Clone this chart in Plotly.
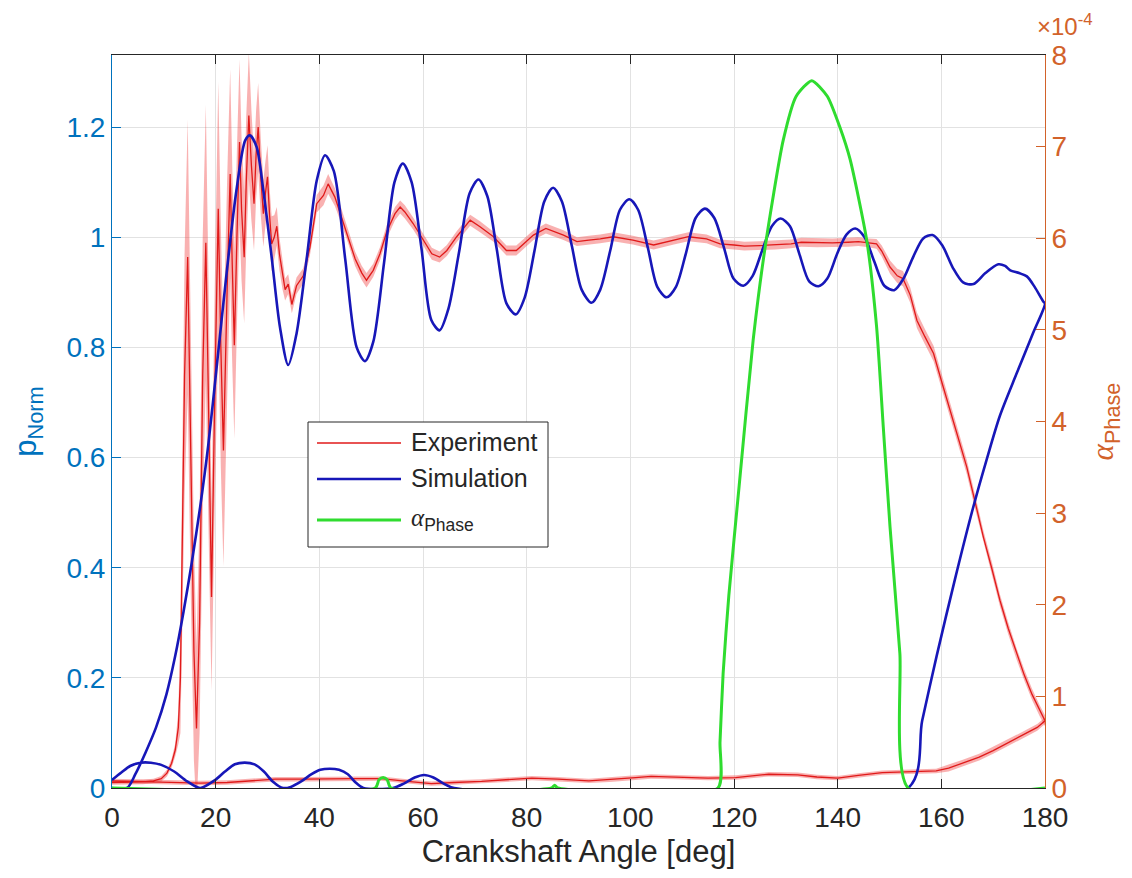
import plotly.graph_objects as go

# ---------------- data ----------------
# Experiment, forward branch (0 -> 180 deg): mean and half-width of the scatter band
exp_fwd_x = [0, 3, 6, 8, 9.5, 10.6, 11.5, 12.2, 12.8, 13.2, 13.6, 14.0,
             14.6, 15.2, 15.8, 16.3, 16.9, 17.5, 18.1, 18.7, 19.2, 19.8, 20.5, 21.0, 21.5,
             22.2, 22.8, 23.2, 23.6, 24.1, 24.6, 25.0, 25.5, 25.9, 26.4, 26.9, 27.4, 27.8,
             28.2, 28.7, 29.2, 29.6, 30.0, 30.4, 30.8, 31.3, 31.8, 32.3, 32.9, 33.4, 34.0,
             34.7, 35.6, 36.9, 38.2, 39.5, 40.8, 41.7, 43.0, 44.3, 45.6, 46.9, 48.2, 49.1,
             50.4, 51.7, 53.0, 54.6, 55.6, 56.5, 58.1, 60.1, 61.7, 63.2, 64.6, 66.5, 69.1,
             71.0, 73.6, 76.1, 78.0, 81.3, 83.7, 87.1, 89.7, 92.0, 94.2, 96.7, 100.5, 104.5,
             108.4, 111.2, 114.7, 117.3, 120.0, 122.0, 125.0, 128.0, 131.0, 133.0, 136.0,
             139.0, 142.0, 144.0, 146.0, 147.5, 148.5, 150.1, 151.5, 152.6, 154.0, 155.3,
             156.8, 158.5, 160.0, 161.7, 163.3, 164.9, 166.5, 168.1, 169.7, 171.3, 172.9,
             174.5, 176.0, 177.5, 179.0, 180.0]
exp_fwd_y = [0.010, 0.010, 0.011, 0.013, 0.017, 0.027, 0.045, 0.069, 0.110, 0.200, 0.450, 0.750,
             0.964, 0.600, 0.250, 0.108, 0.300, 0.750, 0.990, 0.650, 0.347, 0.700, 1.052, 0.800, 0.613,
             0.900, 1.115, 0.950, 0.804, 1.000, 1.173, 1.050, 0.964, 1.100, 1.221, 1.130, 1.061, 1.150,
             1.200, 1.110, 1.043, 1.080, 1.110, 1.040, 0.988, 1.000, 1.020, 0.970, 0.930, 0.905, 0.915,
             0.878, 0.912, 0.930, 0.982, 1.061, 1.076, 1.097, 1.073, 1.037, 1.001, 0.961, 0.935, 0.922,
             0.940, 0.970, 1.010, 1.043, 1.055, 1.046, 1.025, 0.995, 0.970, 0.964, 0.976, 1.001, 1.031,
             1.019, 1.001, 0.976, 0.976, 1.004, 1.016, 1.004, 0.992, 0.995, 0.997, 1.001, 0.995, 0.986,
             0.995, 1.001, 0.997, 0.988, 0.986, 0.984, 0.985, 0.986, 0.988, 0.991, 0.990,
             0.990, 0.991, 0.992, 0.990, 0.988, 0.975, 0.946, 0.930, 0.925, 0.895, 0.849,
             0.820, 0.789, 0.740, 0.686, 0.635, 0.583, 0.520, 0.456, 0.400, 0.341, 0.290,
             0.244, 0.205, 0.170, 0.140, 0.122]
exp_fwd_hw = [0.004, 0.004, 0.004, 0.004, 0.005, 0.006, 0.008, 0.012, 0.030, 0.100, 0.180, 0.220,
              0.250, 0.250, 0.200, 0.150, 0.200, 0.250, 0.250, 0.220, 0.170, 0.200, 0.230, 0.220, 0.210,
              0.200, 0.190, 0.180, 0.170, 0.160, 0.150, 0.130, 0.120, 0.120, 0.115, 0.100, 0.085, 0.080,
              0.080, 0.070, 0.060, 0.058, 0.057, 0.050, 0.050, 0.040, 0.035, 0.030, 0.025, 0.020, 0.018,
              0.016, 0.015, 0.014, 0.014, 0.016, 0.018, 0.018, 0.016, 0.014, 0.013, 0.013, 0.013, 0.013,
              0.012, 0.012, 0.012, 0.012, 0.012, 0.012, 0.011, 0.011, 0.011, 0.010, 0.010, 0.010, 0.010,
              0.010, 0.009, 0.009, 0.009, 0.009, 0.009, 0.009, 0.008, 0.008, 0.008, 0.008, 0.008, 0.008,
              0.008, 0.008, 0.008, 0.008, 0.008, 0.008, 0.008, 0.008, 0.008, 0.008, 0.008,
              0.008, 0.008, 0.008, 0.008, 0.009, 0.010, 0.012, 0.013, 0.014, 0.014, 0.014,
              0.014, 0.014, 0.014, 0.014, 0.014, 0.013, 0.013, 0.012, 0.012, 0.011, 0.011,
              0.010, 0.010, 0.010, 0.010, 0.010]

# Experiment, return branch (180 -> 0 deg, plotted against 360 - angle)
exp_ret_x = [180.0, 178.5, 176.5, 173.0, 170.0, 167.3, 164.0, 161.4, 159.0, 155.3, 148.6, 144.0,
             140.0, 136.0, 132.3, 126.7, 123.0, 120.3, 115.0, 108.7, 104.0, 101.0, 96.0, 92.0,
             86.0, 81.0, 76.0, 71.3, 66.0, 61.6, 56.0, 52.0, 47.0, 42.0, 37.0, 31.5, 27.0,
             22.2, 17.0, 12.0, 6.0, 0.0]
exp_ret_y = [0.122, 0.110, 0.100, 0.083, 0.068, 0.056, 0.045, 0.036, 0.031, 0.030, 0.028, 0.023,
             0.018, 0.020, 0.024, 0.025, 0.022, 0.019, 0.018, 0.020, 0.021, 0.019, 0.015, 0.013,
             0.016, 0.018, 0.015, 0.012, 0.010, 0.008, 0.013, 0.017, 0.017, 0.016, 0.016, 0.016, 0.013,
             0.010, 0.009, 0.010, 0.012, 0.013]
exp_ret_hw = [0.006] * 8 + [0.004] * 34

# Simulation, full cycle (forward 0 -> 180, then return 180 -> 0)
sim_x = [0, 2.9, 4.5, 6.5, 8.5, 10.5, 12.2, 13.8, 15.4, 17.0, 18.6, 20.2, 22.1, 24.0, 25.7,
         26.6, 27.9, 29.2, 30.8, 32.4, 34.0, 35.6, 37.6, 39.5, 41.1, 42.8, 45.0, 47.2, 48.8, 50.4,
         52.5, 54.5, 56.1, 57.8, 59.7, 61.6, 63.2, 64.9, 66.9, 69.0, 70.7, 72.4, 74.2, 76.1, 77.9,
         79.6, 81.5, 83.4, 85.1, 86.8, 88.7, 90.6, 92.5, 94.2, 96.1, 98.0, 99.8, 101.5, 103.4,
         105.2, 107.0, 108.8, 110.7, 112.6, 114.4, 116.2, 118.1, 119.9, 121.8, 123.6, 125.4,
         127.3, 129.0, 130.8, 132.6, 134.5, 136.3, 138.0, 139.9, 141.7, 143.4, 145.2, 147.1,
         149.0, 150.9, 152.7, 154.6, 156.5, 158.3, 160.2, 162.2, 164.2, 166.2, 168.5, 171.0,
         172.3, 173.3, 175.0, 176.5, 178.0, 179.7, 180.0,
         177.7, 174.5, 171.3, 168.7, 166.1, 162.6, 159.1, 156.3, 153.6,
         66.0, 64.0, 62.0, 60.2, 58.4, 56.3, 54.2, 48.5, 47.0, 45.5, 43.8, 42.0, 40.2, 38.5,
         36.5, 34.5, 33.0, 31.0, 29.3, 27.5, 25.6, 23.7, 21.8, 19.8, 17.0, 14.5, 12.0, 9.5,
         7.5, 5.5, 3.5, 1.8, 0.0]
sim_y = [0.0, 0.0, 0.025, 0.065, 0.110, 0.170, 0.240, 0.320, 0.410, 0.510, 0.625, 0.765,
         0.934, 1.085, 1.176, 1.185, 1.164, 1.085, 0.964, 0.837, 0.768, 0.825, 0.964, 1.103, 1.149,
         1.120, 0.960, 0.800, 0.775, 0.810, 0.955, 1.100, 1.134, 1.100, 0.980, 0.850, 0.831, 0.870,
         0.970, 1.080, 1.105, 1.075, 0.980, 0.880, 0.860, 0.890, 0.975, 1.065, 1.090, 1.065, 0.985,
         0.905, 0.881, 0.905, 0.975, 1.050, 1.069, 1.050, 0.980, 0.910, 0.891, 0.910, 0.970, 1.035,
         1.052, 1.035, 0.980, 0.925, 0.912, 0.930, 0.975, 1.020, 1.034, 1.020, 0.970, 0.920, 0.911,
         0.925, 0.970, 1.005, 1.016, 1.000, 0.955, 0.912, 0.904, 0.925, 0.965, 0.998, 1.004, 0.985,
         0.945, 0.918, 0.915, 0.935, 0.951, 0.948, 0.940, 0.935, 0.929, 0.910, 0.883, 0.880,
         0.826, 0.752, 0.676, 0.595, 0.508, 0.378, 0.240, 0.122, 0.0,
         0.0, 0.008, 0.019, 0.0236, 0.019, 0.008, 0.0, 0.0, 0.010, 0.025, 0.033, 0.035, 0.033, 0.025,
         0.012, 0.002, 0.0, 0.012, 0.030, 0.043, 0.046, 0.043, 0.030, 0.014, 0.0, 0.012, 0.030, 0.042,
         0.046, 0.046, 0.040, 0.028, 0.0145]

# Phase fraction (right axis, absolute values)
alpha_x = [0, 50.8, 51.5, 52.3, 53.1, 53.8, 84.8, 85.4, 86.0, 116.9, 117.3, 117.9, 119.0, 121.0,
           123.7, 126.0, 129.5, 132.0, 135.0, 138.0, 140.5, 142.4, 145.6, 147.5, 148.8, 150.1,
           152.0, 153.6, 180]
alpha_y = [0, 0, 0.09e-4, 0.115e-4, 0.09e-4, 0, 0, 0.03e-4, 0, 0, 0.5e-4, 1.25e-4, 2.1e-4, 3.3e-4,
           4.89e-4, 5.9e-4, 7.07e-4, 7.55e-4, 7.72e-4, 7.55e-4, 7.2e-4, 6.86e-4, 5.98e-4, 5.04e-4,
           3.94e-4, 2.85e-4, 1.47e-4, 0, 0]

x_ticks = [0, 20, 40, 60, 80, 100, 120, 140, 160, 180]
yl_ticks = [0, 0.2, 0.4, 0.6, 0.8, 1.0, 1.2]
yl_labels = ["0", "0.2", "0.4", "0.6", "0.8", "1", "1.2"]
yr_ticks = [0, 1e-4, 2e-4, 3e-4, 4e-4, 5e-4, 6e-4, 7e-4, 8e-4]
yr_labels = ["0", "1", "2", "3", "4", "5", "6", "7", "8"]

# ---------------- figure ----------------
FONT = "Liberation Sans, Arial, Helvetica, sans-serif"
C_LEFT = "#0072BD"
C_RIGHT = "#d2622a"
C_TXT = "#262626"
C_EXP = "#e01a1a"
C_BAND = "rgba(240,70,70,0.42)"
C_SIM = "#1717b8"
C_ALPHA = "#2fdc2f"
ALPHA_TXT = "<span style='font-family:Liberation Serif'><i>α</i></span><sub>Phase</sub>"

fig = go.Figure()


def band(xs, ys, hs):
    bx = list(xs) + list(xs)[::-1]
    by = [y + h for y, h in zip(ys, hs)] + [y - h for y, h in zip(ys, hs)][::-1]
    return bx, by


bx, by = band(exp_fwd_x, exp_fwd_y, exp_fwd_hw)
fig.add_trace(go.Scatter(x=bx, y=by, fill="toself", fillcolor=C_BAND, line=dict(width=0),
                         mode="lines", showlegend=False, hoverinfo="skip"))
bx, by = band(exp_ret_x, exp_ret_y, exp_ret_hw)
fig.add_trace(go.Scatter(x=bx, y=by, fill="toself", fillcolor=C_BAND, line=dict(width=0),
                         mode="lines", showlegend=False, hoverinfo="skip"))

fig.add_trace(go.Scatter(x=exp_fwd_x + exp_ret_x[1:], y=exp_fwd_y + exp_ret_y[1:], mode="lines",
                         line=dict(color=C_EXP, width=1.3), name="Experiment", showlegend=False))
fig.add_trace(go.Scatter(x=sim_x, y=sim_y, mode="lines",
                         line=dict(color=C_SIM, width=2.6, shape="spline", smoothing=0.8),
                         name="Simulation", showlegend=False))
fig.add_trace(go.Scatter(x=alpha_x, y=alpha_y, mode="lines", yaxis="y2",
                         line=dict(color=C_ALPHA, width=3, shape="spline", smoothing=0.6),
                         name="αPhase", showlegend=False))

# the page body has an 8 px margin: the figure is sized and offset so that
# the plot area lands at x 112..1045, y 55..788 of the window
fig.update_layout(
    width=1124, height=870,
    margin=dict(l=104, r=87, t=47, b=90, autoexpand=False),
    paper_bgcolor="white", plot_bgcolor="white",
    font=dict(family=FONT, size=28, color=C_TXT),
    xaxis=dict(range=[0, 180], tickvals=x_ticks, ticks="inside", ticklen=9, tickcolor=C_TXT,
               showline=True, linecolor=C_TXT, linewidth=1, mirror="ticks",
               showgrid=True, gridcolor="#e2e2e2", gridwidth=1, zeroline=False,
               tickfont=dict(size=28, color=C_TXT), ticklabelstandoff=4,
               title=dict(text="Crankshaft Angle [deg]", font=dict(size=31, color=C_TXT), standoff=8)),
    yaxis=dict(range=[0, 1.331], tickvals=yl_ticks, ticktext=yl_labels, ticks="inside", ticklen=9,
               tickcolor=C_LEFT, showline=True, linecolor=C_LEFT, linewidth=1, zeroline=False,
               showgrid=True, gridcolor="#e2e2e2", gridwidth=1,
               tickfont=dict(size=28, color=C_LEFT),
               title=dict(text="p<sub>Norm</sub>", font=dict(size=31, color=C_LEFT), standoff=20)),
    yaxis2=dict(range=[0, 8e-4], tickvals=yr_ticks, ticktext=yr_labels, overlaying="y", side="right",
                ticks="inside", ticklen=9, tickcolor=C_RIGHT, showline=True, linecolor=C_RIGHT,
                linewidth=1, zeroline=False, showgrid=False,
                tickfont=dict(size=28, color=C_RIGHT),
                title=dict(text=ALPHA_TXT, font=dict(size=31, color=C_RIGHT), standoff=25)),
    showlegend=False,
)

# exponent label of the right axis
fig.add_annotation(xref="paper", yref="paper", x=1, y=1, xanchor="left", yanchor="bottom",
                   xshift=-10, yshift=13, showarrow=False,
                   text="×10<sup>-4</sup>", font=dict(size=24, color=C_RIGHT))

# legend box (drawn like the MATLAB legend), positions in window pixels
PW, PH = 933.0, 733.0


def px(xp):
    return (xp - 112) / PW


def py(yp):
    return (788 - yp) / PH


fig.add_shape(type="rect", xref="paper", yref="paper", x0=px(308), x1=px(548), y0=py(547), y1=py(422),
              line=dict(color=C_TXT, width=1), fillcolor="white", layer="above")
leg_items = [("Experiment", C_EXP, 1.3, 443), ("Simulation", C_SIM, 2.6, 479), (ALPHA_TXT, C_ALPHA, 3, 520)]
for txt, col, w, yy in leg_items:
    fig.add_shape(type="line", xref="paper", yref="paper", x0=px(317), x1=px(401), y0=py(yy), y1=py(yy),
                  line=dict(color=col, width=w), layer="above")
    fig.add_annotation(xref="paper", yref="paper", x=px(409), y=py(yy - 1), xanchor="left", yanchor="middle",
                       showarrow=False, text=txt, font=dict(size=25, color=C_TXT))

fig.write_html("out.html")
